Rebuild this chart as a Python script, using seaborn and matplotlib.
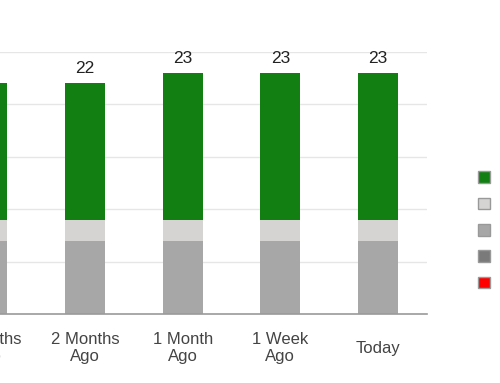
import matplotlib
matplotlib.use("Agg")
import matplotlib.pyplot as plt
import seaborn as sns
import pandas as pd
import numpy as np
from matplotlib.patches import Patch

categories = ["3 Months\nAgo", "2 Months\nAgo", "1 Month\nAgo", "1 Week\nAgo", "Today"]
series_names = ["Buy", "Outperform", "Hold", "Underperform", "Sell"]
buy = [13, 13, 14, 14, 14]
outperform = [2, 2, 2, 2, 2]
hold = [7, 7, 7, 7, 7]
underperform = [0, 0, 0, 0, 0]
sell = [0, 0, 0, 0, 0]
colors = ["#117f12", "#d5d4d3", "#a7a7a7", "#7a7a7a", "#ff0000"]

sns.set_style("white")
plt.rcParams['font.family'] = ['Liberation Sans', 'DejaVu Sans']

# stacking order bottom-up: sell, underperform, hold, outperform, buy
stack = [sell, underperform, hold, outperform, buy]
stack_colors = colors[::-1]
cum = np.cumsum(np.array(stack), axis=0)

fig = plt.figure(figsize=(5, 3.83), dpi=100)
ax = fig.add_axes([-61.75 / 500, 69 / 383, 488.75 / 500, 262 / 383])

# draw from tallest (cumulative total) down
for i in range(len(stack) - 1, -1, -1):
    df = pd.DataFrame({"cat": categories, "val": cum[i]})
    sns.barplot(data=df, x="cat", y="val", color=stack_colors[i], width=0.41,
                saturation=1, ax=ax, linewidth=0, zorder=3)

totals = cum[-1]
for xi, t in enumerate(totals):
    ax.text(xi, t + 0.95, str(int(t)), ha="center", va="baseline",
            fontsize=12.5, color="#222222", zorder=5)

ax.set_ylim(0, 25)
ax.set_xlim(-0.5, len(categories) - 0.5)
ax.set_yticks([0, 5, 10, 15, 20, 25])
ax.set_yticklabels([])
ax.tick_params(axis="y", length=0)
ax.tick_params(axis="x", length=0, labelsize=12, labelcolor="#444444", pad=24.5)
ax.set_xlabel("")
ax.set_ylabel("")
ax.yaxis.grid(True, color="#e6e6e6", linewidth=1)
ax.set_axisbelow(True)
for s in ["top", "right", "left"]:
    ax.spines[s].set_visible(False)
ax.spines["bottom"].set_color("#9a9a9a")
ax.spines["bottom"].set_linewidth(1.2)
ax.spines["bottom"].set_zorder(4)
for lab in ax.get_xticklabels():
    lab.set_linespacing(1.1)
    lab.set_verticalalignment("center")

handles = [Patch(facecolor=c, edgecolor="#999999", linewidth=1) for c in colors]
leg = fig.legend(handles, series_names, loc="upper left",
                 bbox_to_anchor=(478 / 500, 1 - 171 / 383),
                 frameon=False, handlelength=0.72, handleheight=0.72,
                 labelspacing=0.68, handletextpad=1.5, fontsize=12,
                 borderpad=0, borderaxespad=0)
for t in leg.get_texts():
    t.set_color("#444444")

fig.savefig("out.png", dpi=100)
